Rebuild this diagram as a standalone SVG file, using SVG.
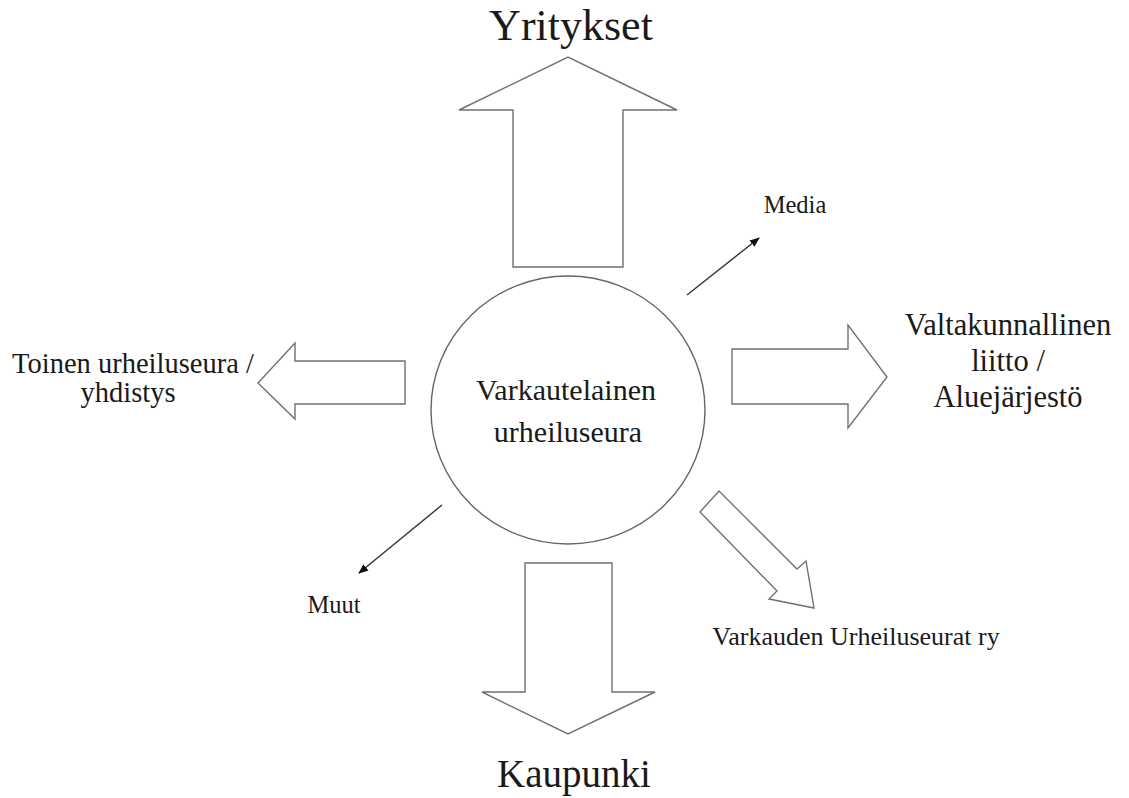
<svg xmlns="http://www.w3.org/2000/svg" width="1129" height="798" viewBox="0 0 1129 798">
<defs>
<style>
.t{font-family:"Liberation Serif","Times New Roman",serif;fill:#1a1a1a}
.ba{fill:#fff;stroke:#707070;stroke-width:1.4;stroke-linejoin:miter}
.ln{stroke:#333;stroke-width:1.4;fill:none}
</style>
<marker id="ah" viewBox="0 0 10 10" refX="9" refY="5" markerWidth="10" markerHeight="10" markerUnits="userSpaceOnUse" orient="auto">
<path d="M0,1 L10,5 L0,9 Z" fill="#111"/>
</marker>
</defs>
<rect width="1129" height="798" fill="#fff"/>
<g id="connectors">
<polygon class="ba" points="513,267 513,110 459,110 568,57 677,110 623,110 623,267"/>
<polygon class="ba" points="405,361 295,361 295,343 258,383 295,419 295,404 405,404"/>
<polygon class="ba" points="732,349 848,349 848,325 887,377 848,428 848,404 732,404"/>
<polygon class="ba" points="525,563 612,563 612,692 655,692 568,734 482,692 525,692"/>
<polygon class="ba" points="700,512 719,491 797,569 806,561 814,608 769,599 777,591"/>
<line class="ln" x1="687" y1="295" x2="759" y2="238" marker-end="url(#ah)"/>
<line class="ln" x1="442" y1="505" x2="359" y2="573" marker-end="url(#ah)"/>
</g>
<g id="center">
<ellipse cx="568" cy="410" rx="137" ry="134" fill="#fff" stroke="#666" stroke-width="1.4"/>
<text class="t" x="566" y="400" font-size="30" text-anchor="middle">Varkautelainen</text>
<text class="t" x="568" y="442" font-size="30" text-anchor="middle">urheiluseura</text>
</g>
<g id="yritykset"><text class="t" x="571" y="40" font-size="44" text-anchor="middle">Yritykset</text></g>
<g id="kaupunki"><text class="t" x="574" y="787" font-size="39" text-anchor="middle">Kaupunki</text></g>
<g id="toinen">
<text class="t" x="133" y="373" font-size="28.5" text-anchor="middle">Toinen urheiluseura /</text>
<text class="t" x="128" y="402" font-size="28.5" text-anchor="middle">yhdistys</text>
</g>
<g id="valtakunnallinen">
<text class="t" x="1008" y="335" font-size="30.5" text-anchor="middle">Valtakunnallinen</text>
<text class="t" x="1008" y="371" font-size="30.5" text-anchor="middle">liitto /</text>
<text class="t" x="1008" y="407" font-size="30.5" text-anchor="middle">Aluejärjestö</text>
</g>
<g id="media"><text class="t" x="795" y="213" font-size="24.5" text-anchor="middle">Media</text></g>
<g id="muut"><text class="t" x="334" y="613" font-size="24.5" text-anchor="middle">Muut</text></g>
<g id="varkauden"><text class="t" x="856" y="645" font-size="26" text-anchor="middle">Varkauden Urheiluseurat ry</text></g>
</svg>
